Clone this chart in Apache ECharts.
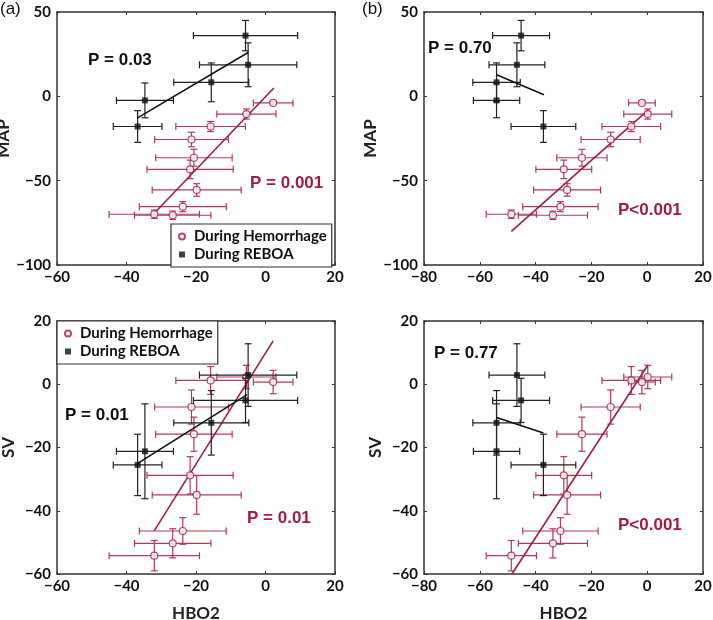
<!DOCTYPE html>
<html>
<head>
  <meta charset="utf-8" />
  <title>HBO2 vs MAP / SV</title>
  <script src="https://cdn.jsdelivr.net/npm/echarts@6/dist/echarts.min.js"></script>
</head>
<body style="margin:0">
  <div id="main" style="width: 713px; height: 620px"></div>
  <script>
    // hemorrhage points (same order in every panel)
    let hemXA = [2.2, -5.5, -15.8, -21.3, -20.6, -21.7, -19.8, -23.8, -32.0, -26.7];
    let hemXAErr = [5.7, 8.5, 10.0, 10.6, 11.0, 12.4, 12.8, 12.5, 13.0, 11.0];
    let hemXB = [-1.9, 0.2, -5.7, -13.1, -23.4, -29.9, -28.7, -31.1, -48.7, -33.8];
    let hemXBErr = [4.8, 8.6, 10.5, 10.6, 9.0, 10.0, 12.0, 13.5, 9.0, 12.4];
    let hemMap = [-3.9, -10.5, -17.9, -25.6, -36.4, -43.3, -55.5, -65.4, -69.9, -70.5];
    let hemMapErr = [0.8, 3.0, 3.0, 4.3, 5.0, 5.5, 3.7, 3.0, 2.5, 2.5];
    let hemSv = [0.7, 2.3, 1.2, -7.2, -15.8, -28.8, -35.0, -46.4, -54.2, -50.3];
    let hemSvErr = [3.7, 3.7, 4.4, 5.4, 5.4, 5.9, 6.1, 4.2, 4.8, 4.6];

    // REBOA points
    let rebXA = [-5.75, -5.0, -15.6, -34.7, -36.8];
    let rebXAErr = [15.0, 14.0, 10.8, 8.2, 7.0];
    let rebXB = [-45.2, -46.7, -54.0, -54.0, -37.2];
    let rebXBErr = [10.2, 10.0, 8.5, 8.3, 11.6];
    let rebMap = [36.0, 18.7, 8.3, -2.4, -17.9];
    let rebMapErr = [9.0, 13.0, 11.5, 10.3, 9.4];
    let rebSv = [-5.1, 2.9, -12.2, -21.2, -25.5];
    let rebSvErr = [7.0, 9.9, 10.2, 15.0, 9.7];

    // regression lines (end points)
    let fitRebMapA = [[-36.8, -12.8], [-5.0, 26.0]];
    let fitHemMapA = [[-31.8, -68.9], [2.4, 4.9]];
    let fitRebMapB = [[-54.0, 12.8], [-37.0, 1.0]];
    let fitHemMapB = [[-48.7, -80.1], [0.5, -7.9]];
    let fitRebSvA = [[-36.9, -25.1], [-5.3, -3.3]];
    let fitHemSvA = [[-32.0, -46.3], [2.2, 13.7]];
    let fitRebSvB = [[-54.0, -10.5], [-37.2, -15.4]];
    let fitHemSvB = [[-48.5, -60.0], [0.2, 6.0]];

    let pLabels = ["P = 0.03", "P = 0.001", "P = 0.70", "P<0.001", "P = 0.01", "P = 0.01", "P = 0.77", "P<0.001"];

    const RED = "#a01f3d";
    const RED_BAR = "#b33a55";
    const BLACK = "#111";
    const FONT = "Lato";

    function zip(xs, ys, xe, ye) {
      return xs.map((x, i) => [x, ys[i], xe[i], ye[i]]);
    }

    function errRender(color) {
      return function (params, api) {
        let x = api.value(0), y = api.value(1), ex = api.value(2), ey = api.value(3);
        let l = api.coord([x - ex, y]), r = api.coord([x + ex, y]);
        let t = api.coord([x, y + ey]), b = api.coord([x, y - ey]);
        let c = 3.5;
        let st = { stroke: color, lineWidth: 1.2 };
        let seg = (x1, y1, x2, y2) => ({ type: "line", shape: { x1, y1, x2, y2 }, style: st });
        return {
          type: "group",
          children: [
            seg(l[0], l[1], r[0], r[1]),
            seg(l[0], l[1] - c, l[0], l[1] + c),
            seg(r[0], r[1] - c, r[0], r[1] + c),
            seg(t[0], t[1], b[0], b[1]),
            seg(t[0] - c, t[1], t[0] + c, t[1]),
            seg(b[0] - c, b[1], b[0] + c, b[1]),
          ],
        };
      };
    }

    let panels = [
      { hem: zip(hemXA, hemMap, hemXAErr, hemMapErr), reb: zip(rebXA, rebMap, rebXAErr, rebMapErr), fitH: fitHemMapA, fitR: fitRebMapA },
      { hem: zip(hemXB, hemMap, hemXBErr, hemMapErr), reb: zip(rebXB, rebMap, rebXBErr, rebMapErr), fitH: fitHemMapB, fitR: fitRebMapB },
      { hem: zip(hemXA, hemSv, hemXAErr, hemSvErr), reb: zip(rebXA, rebSv, rebXAErr, rebSvErr), fitH: fitHemSvA, fitR: fitRebSvA },
      { hem: zip(hemXB, hemSv, hemXBErr, hemSvErr), reb: zip(rebXB, rebSv, rebXBErr, rebSvErr), fitH: fitHemSvB, fitR: fitRebSvB },
    ];

    let grids = [
      { left: 57, top: 12, width: 278, height: 253 },
      { left: 424, top: 12, width: 279, height: 253 },
      { left: 57, top: 321, width: 278, height: 253 },
      { left: 424, top: 321, width: 279, height: 253 },
    ].map((g) => Object.assign({ outerBoundsMode: "none", containLabel: false }, g));

    let axisLine = { show: true, onZero: false, lineStyle: { color: "#333", width: 1.5 } };
    let axisTick = { show: true, inside: true, length: 3, lineStyle: { color: "#333", width: 1 } };
    let minus = (v) => String(v).replace("-", "\u2212");
    let labelStyle = { color: "#111", fontFamily: FONT, fontWeight: "bold", fontSize: 15, formatter: minus };
    let nameStyle = { color: "#222", fontFamily: FONT, fontWeight: "bold", fontSize: 17 };

    let xRanges = [[-60, 20], [-80, 20], [-60, 20], [-80, 20]];
    let yRanges = [[-100, 50, 50], [-100, 50, 50], [-60, 20, 20], [-60, 20, 20]];
    let yNames = ["MAP", "MAP", "SV", "SV"];

    let xAxis = [], yAxis = [];
    for (let i = 0; i < 4; i++) {
      let base = { gridIndex: i, type: "value", splitLine: { show: false }, axisLine, axisTick };
      xAxis.push(Object.assign({}, base, {
        min: xRanges[i][0], max: xRanges[i][1], interval: 20, position: "bottom",
        axisLabel: Object.assign({ margin: 5 }, labelStyle),
        name: i >= 2 ? "HBO2" : "", nameLocation: "middle", nameGap: 31, nameTextStyle: nameStyle,
      }));
      yAxis.push(Object.assign({}, base, {
        min: yRanges[i][0], max: yRanges[i][1], interval: yRanges[i][2], position: "left",
        axisLabel: Object.assign({ margin: 6 }, labelStyle),
        name: yNames[i], nameLocation: "middle", nameGap: 40, nameTextStyle: nameStyle,
      }));
    }
    // mirrored axes to close the box
    for (let i = 0; i < 4; i++) {
      let base = { gridIndex: i, type: "value", splitLine: { show: false }, axisLine, axisTick, axisLabel: { show: false } };
      xAxis.push(Object.assign({}, base, { min: xRanges[i][0], max: xRanges[i][1], interval: 20, position: "top" }));
      yAxis.push(Object.assign({}, base, { min: yRanges[i][0], max: yRanges[i][1], interval: yRanges[i][2], position: "right" }));
    }

    let series = [];
    panels.forEach((p, i) => {
      series.push({
        type: "custom", name: "hemErr" + i, xAxisIndex: i, yAxisIndex: i,
        renderItem: errRender(RED_BAR), encode: { x: 0, y: 1 }, data: p.hem, z: 2, silent: true,
      });
      series.push({
        type: "line", name: "hemFit" + i, xAxisIndex: i, yAxisIndex: i, data: p.fitH,
        showSymbol: false, lineStyle: { color: RED, width: 1.6 }, z: 3, silent: true,
      });
      series.push({
        type: "scatter", name: "During Hemorrhage", xAxisIndex: i, yAxisIndex: i,
        data: p.hem.map((d) => [d[0], d[1]]), symbol: "circle", symbolSize: 7,
        itemStyle: { color: "#fff", borderColor: RED, borderWidth: 1.2 }, z: 4,
      });
      series.push({
        type: "custom", name: "rebErr" + i, xAxisIndex: i, yAxisIndex: i,
        renderItem: errRender("#222"), encode: { x: 0, y: 1 }, data: p.reb, z: 5, silent: true,
      });
      series.push({
        type: "line", name: "rebFit" + i, xAxisIndex: i, yAxisIndex: i, data: p.fitR,
        showSymbol: false, lineStyle: { color: BLACK, width: 1.6 }, z: 6, silent: true,
      });
      series.push({
        type: "scatter", name: "During REBOA", xAxisIndex: i, yAxisIndex: i,
        data: p.reb.map((d) => [d[0], d[1]]), symbol: "rect", symbolSize: 6,
        itemStyle: { color: BLACK }, z: 7,
      });
    });

    let legendBase = {
      orient: "vertical",
      data: [
        { name: "During Hemorrhage", icon: "circle" },
        { name: "During REBOA", icon: "path://M0,0L10,0L10,10L0,10Z" },
      ],
      itemWidth: 14, itemHeight: 6, itemGap: 3, symbolKeepAspect: true, backgroundColor: "#fff",
      borderColor: "#333", borderWidth: 1.2, borderRadius: 0, padding: [5, 5, 5, 7],
      textStyle: { color: "#111", fontFamily: FONT, fontWeight: "bold", fontSize: 15 },
      selectedMode: false, z: 20,
    };
    let legend = [
      Object.assign({}, legendBase, { left: 171, top: 224 }),
      Object.assign({}, legendBase, { left: 57, top: 321 }),
    ];

    let pPos = [[88, 61, BLACK], [250, 184, RED], [428, 49, BLACK], [618, 211, RED],
                [65, 416, BLACK], [247, 519, RED], [434, 354, BLACK], [618, 526, RED]];
    let graphic = pPos.map((p, i) => ({
      type: "text", left: p[0], top: p[1] - 9, z: 30,
      style: { text: pLabels[i], fill: p[2], font: "bold 17px 'Liberation Sans'" },
    }));
    graphic.push({ type: "text", left: 0, top: 1, style: { text: "(a)", fill: "#111", font: "17px 'Liberation Sans'" } });
    graphic.push({ type: "text", left: 362, top: 1, style: { text: "(b)", fill: "#111", font: "17px 'Liberation Sans'" } });

    let option = {
      animation: false,
      backgroundColor: "#fff",
      grid: grids,
      xAxis: xAxis,
      yAxis: yAxis,
      legend: legend,
      series: series,
      graphic: graphic,
    };

    let chart = echarts.init(document.getElementById("main"));
    chart.setOption(option);
  </script>
</body>
</html>
